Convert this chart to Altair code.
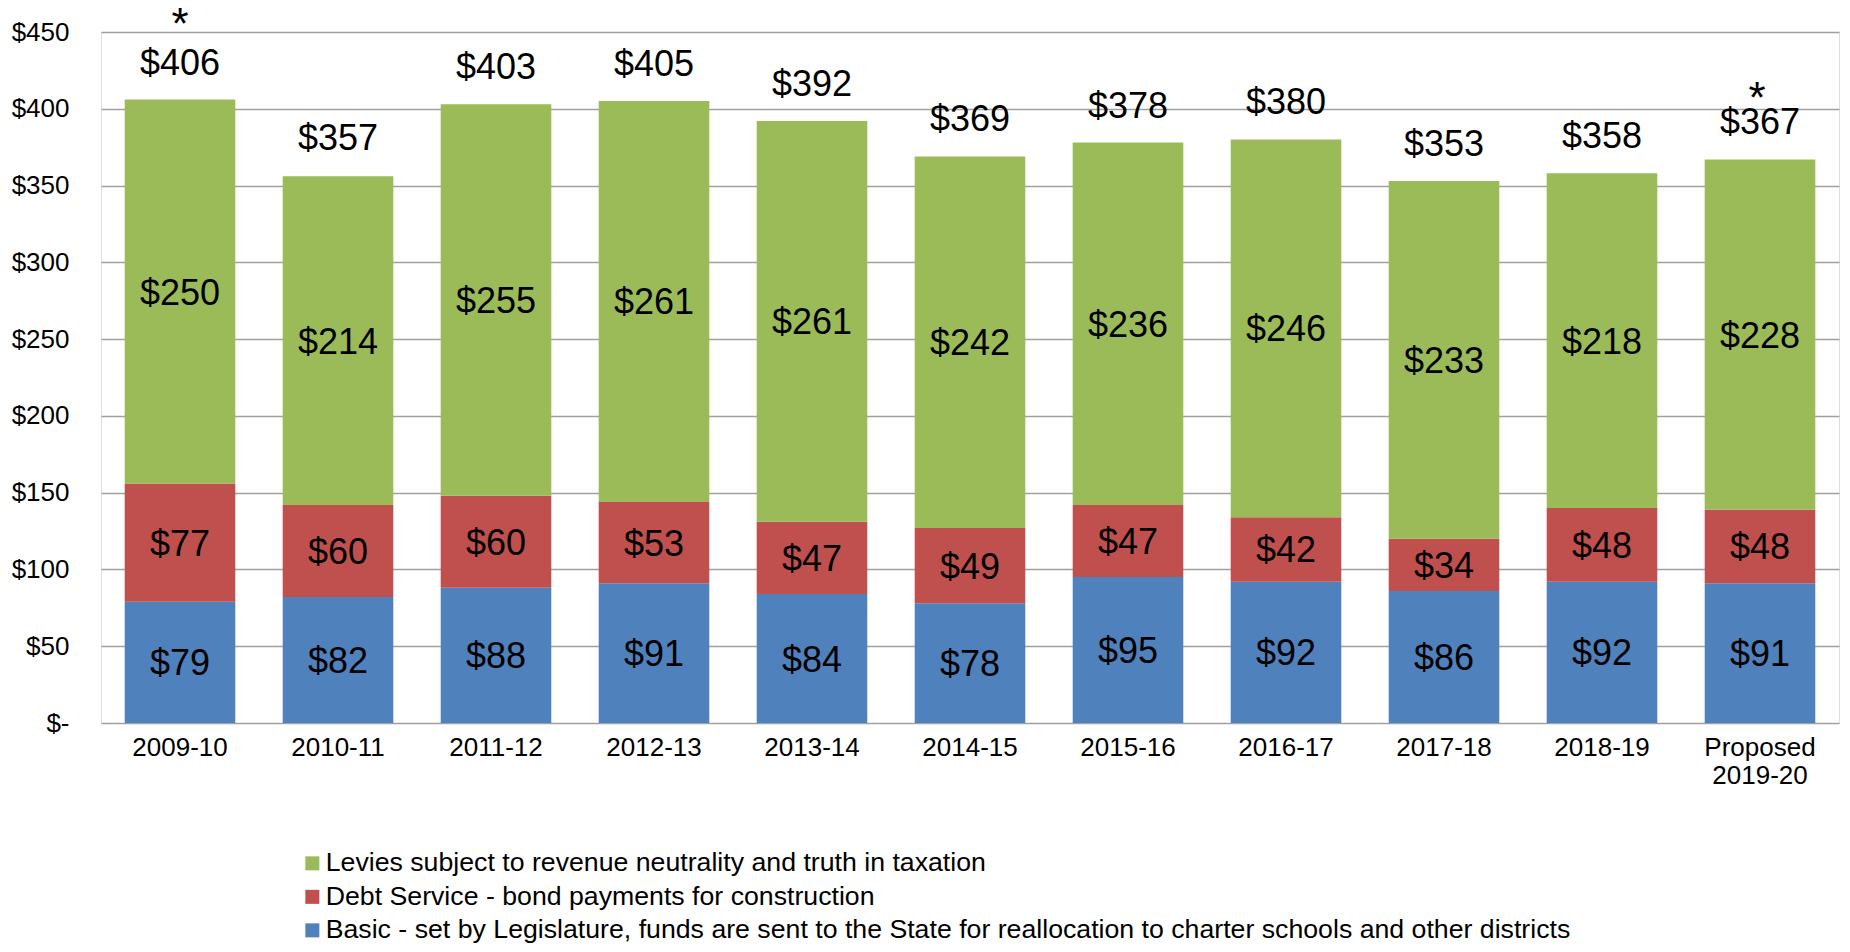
import altair as alt
import pandas as pd

categories = ["2009-10", "2010-11", "2011-12", "2012-13", "2013-14", "2014-15",
              "2015-16", "2016-17", "2017-18", "2018-19", "Proposed 2019-20"]
basic = [79, 82, 88, 91, 84, 78, 95, 92, 86, 92, 91]
debt = [77, 60, 60, 53, 47, 49, 47, 42, 34, 48, 48]
levies = [250, 214, 255, 261, 261, 242, 236, 246, 233, 218, 228]
totals = [406, 357, 403, 405, 392, 369, 378, 380, 353, 358, 367]
starred_first = ["2009-10"]
starred_last = ["Proposed 2019-20"]

series_names = [
    "Levies subject to revenue neutrality and truth in taxation",
    "Debt Service - bond payments for construction",
    "Basic - set by Legislature, funds are sent to the State for reallocation to charter schools and other districts",
]
series_colors = ["#9BBB59", "#C0504D", "#4F81BD"]
y_ticks = [0, 50, 100, 150, 200, 250, 300, 350, 400, 450]

rows = []
for i, c in enumerate(categories):
    rows.append({"cat": c, "series": series_names[2], "value": basic[i], "ord": 0})
    rows.append({"cat": c, "series": series_names[1], "value": debt[i], "ord": 1})
    rows.append({"cat": c, "series": series_names[0], "value": levies[i], "ord": 2})
df = pd.DataFrame(rows)
tot = pd.DataFrame({"cat": categories, "total": totals})

FONT = "Liberation Sans"

x_enc = alt.X(
    "cat:N", sort=categories, title=None,
    scale=alt.Scale(paddingInner=0.3, paddingOuter=0.15),
    axis=alt.Axis(
        labelAngle=0, labelFontSize=26, labelFont=FONT, labelColor="black",
        ticks=False, tickSize=0, domain=False, labelPadding=11, labelLineHeight=28,
        labelExpr="datum.label == 'Proposed 2019-20' ? ['Proposed', '2019-20'] : datum.label",
    ),
)
y_scale = alt.Scale(domain=[0, 450], nice=False)

bars = alt.Chart(df).mark_bar().encode(
    x=x_enc,
    y=alt.Y("value:Q", stack="zero", scale=y_scale, title=None,
            axis=alt.Axis(values=y_ticks, labelFontSize=26, labelFont=FONT, labelColor="black",
                          ticks=False, tickSize=0, domain=False, labelPadding=32,
                          gridColor="#A0A0A0", gridWidth=1.3,
                          labelExpr="datum.value == 0 ? '$-\u00a0\u00a0' : '$' + datum.value")),
    color=alt.Color("series:N", scale=alt.Scale(domain=series_names, range=series_colors),
                    legend=alt.Legend(
                        title=None, orient="none", legendX=198, legendY=818,
                        direction="vertical", symbolType="square", symbolSize=196,
                        symbolStrokeWidth=0, labelFontSize=26.7, labelFont=FONT,
                        labelColor="black", labelLimit=2000, padding=0, rowPadding=5.5,
                        labelOffset=0)),
    order=alt.Order("ord:Q", sort="ascending"),
)

seg_labels = alt.Chart(df).transform_stack(
    stack="value", groupby=["cat"], as_=["y0", "y1"], sort=[alt.SortField("ord", order="ascending")]
).transform_calculate(
    mid="(datum.y0 + datum.y1) / 2", lab="'$' + datum.value"
).mark_text(fontSize=36, font=FONT, color="black", baseline="middle", dy=2).encode(
    x=alt.X("cat:N", sort=categories),
    y=alt.Y("mid:Q", scale=y_scale),
    text="lab:N",
)

tot_labels = alt.Chart(tot).transform_calculate(lab="'$' + datum.total").mark_text(
    fontSize=36, font=FONT, color="black", baseline="alphabetic", dy=-25
).encode(
    x=alt.X("cat:N", sort=categories),
    y=alt.Y("total:Q", scale=y_scale),
    text="lab:N",
)

star1 = alt.Chart(tot).transform_filter(
    alt.FieldOneOfPredicate(field="cat", oneOf=starred_first)
).transform_calculate(lab="'*'").mark_text(
    fontSize=44, font=FONT, color="black", baseline="alphabetic", dy=-61
).encode(x=alt.X("cat:N", sort=categories), y=alt.Y("total:Q", scale=y_scale), text="lab:N")

star2 = alt.Chart(tot).transform_filter(
    alt.FieldOneOfPredicate(field="cat", oneOf=starred_last)
).transform_calculate(lab="'*'").mark_text(
    fontSize=44, font=FONT, color="black", baseline="alphabetic", dy=-46, dx=-3
).encode(x=alt.X("cat:N", sort=categories), y=alt.Y("total:Q", scale=y_scale), text="lab:N")

chart = alt.layer(bars, seg_labels, tot_labels, star1, star2).properties(
    width=1738, height=691,
    autosize=alt.AutoSizeParams(type="none"),
    padding={"left": 93, "top": 24, "right": 3, "bottom": 221},
).configure_view(stroke="black", strokeWidth=1.5).configure(background="white")

chart.save("out.html", embed_options={"renderer": "svg", "actions": False})
